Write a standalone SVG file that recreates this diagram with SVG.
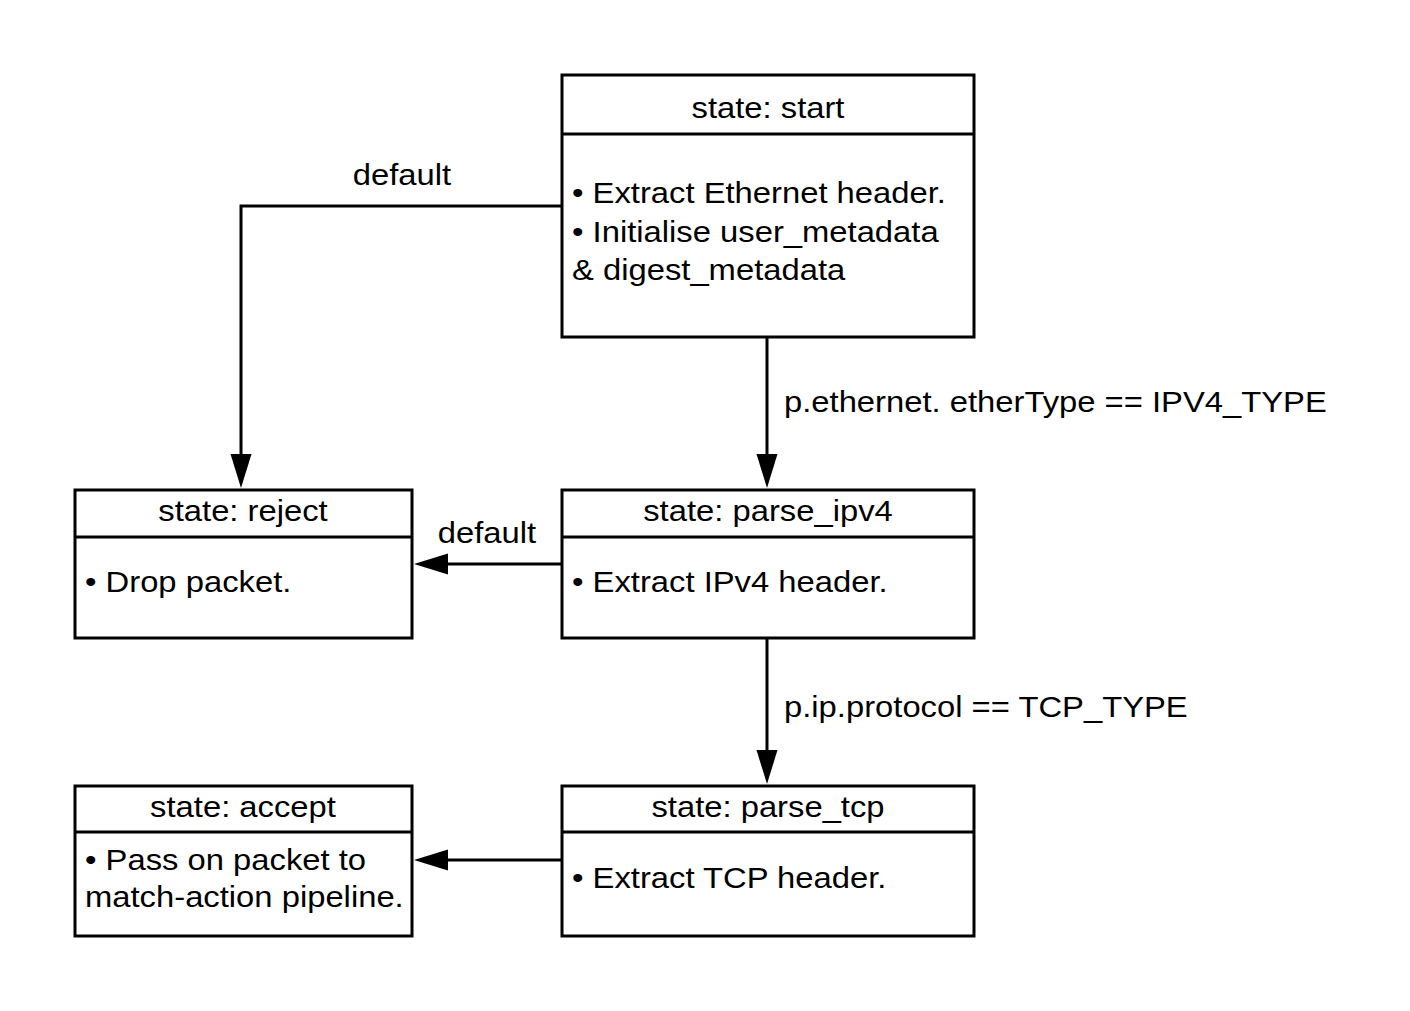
<svg xmlns="http://www.w3.org/2000/svg" width="1410" height="1011" viewBox="0 0 1410 1011">
<style>
.box{fill:#fff;stroke:#000;stroke-width:3}
.div{stroke:#000;stroke-width:3;fill:none}
.edge{stroke:#000;stroke-width:3;fill:none}
text{font-family:"Liberation Sans",Arial,sans-serif;font-size:29px;fill:#000}
.c{text-anchor:middle}
</style>
<defs>
<marker id="ah" markerUnits="userSpaceOnUse" markerWidth="36" markerHeight="24" refX="24" refY="11" orient="auto" viewBox="0 0 36 24">
<path d="M0,0.5 L34,11 L0,21.5 z" fill="#000"/>
</marker>
</defs>
<rect width="1410" height="1011" fill="#fff"/>
<g id="edges">
<path class="edge" d="M562,206 H241 V478" marker-end="url(#ah)"/>
<path class="edge" d="M767,337 V478" marker-end="url(#ah)"/>
<path class="edge" d="M562,564 H424" marker-end="url(#ah)"/>
<path class="edge" d="M767,638 V774" marker-end="url(#ah)"/>
<path class="edge" d="M562,860 H424" marker-end="url(#ah)"/>
<text transform="translate(402,185) scale(1.13,1)" class="c">default</text>
<text transform="translate(784,412) scale(1.13,1)">p.ethernet. etherType == IPV4_TYPE</text>
<text transform="translate(487,543) scale(1.13,1)" class="c">default</text>
<text transform="translate(784,717) scale(1.13,1)">p.ip.protocol == TCP_TYPE</text>
</g>
<g id="start">
<rect class="box" x="562" y="75" width="412" height="262"/>
<line class="div" x1="562" y1="134" x2="974" y2="134"/>
<text transform="translate(768,118) scale(1.13,1)" class="c">state: start</text>
<text transform="translate(572,203) scale(1.13,1)">• Extract Ethernet header.</text>
<text transform="translate(572,242) scale(1.13,1)">• Initialise user_metadata</text>
<text transform="translate(572,280) scale(1.13,1)">&amp; digest_metadata</text>
</g>
<g id="reject">
<rect class="box" x="75" y="490" width="337" height="148"/>
<line class="div" x1="75" y1="537" x2="412" y2="537"/>
<text transform="translate(243,521) scale(1.13,1)" class="c">state: reject</text>
<text transform="translate(85,592) scale(1.13,1)">• Drop packet.</text>
</g>
<g id="parse_ipv4">
<rect class="box" x="562" y="490" width="412" height="148"/>
<line class="div" x1="562" y1="537" x2="974" y2="537"/>
<text transform="translate(768,521) scale(1.13,1)" class="c">state: parse_ipv4</text>
<text transform="translate(572,592) scale(1.13,1)">• Extract IPv4 header.</text>
</g>
<g id="accept">
<rect class="box" x="75" y="786" width="337" height="150"/>
<line class="div" x1="75" y1="832" x2="412" y2="832"/>
<text transform="translate(243,817) scale(1.13,1)" class="c">state: accept</text>
<text transform="translate(85,870) scale(1.13,1)">• Pass on packet to</text>
<text transform="translate(85,907) scale(1.13,1)">match-action pipeline.</text>
</g>
<g id="parse_tcp">
<rect class="box" x="562" y="786" width="412" height="150"/>
<line class="div" x1="562" y1="832" x2="974" y2="832"/>
<text transform="translate(768,817) scale(1.13,1)" class="c">state: parse_tcp</text>
<text transform="translate(572,888) scale(1.13,1)">• Extract TCP header.</text>
</g>
</svg>
